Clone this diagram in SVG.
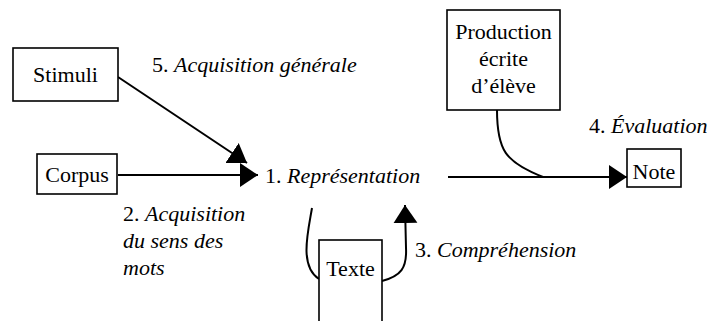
<svg xmlns="http://www.w3.org/2000/svg" width="707" height="321" viewBox="0 0 707 321">
<style>
text{font-size:22px;fill:#000}
.it{font-style:italic}
.box{fill:#fff;stroke:#000;stroke-width:1.6}
.c{fill:none;stroke:#000;stroke-width:2}
</style>
<defs>
<marker id="ah" markerUnits="userSpaceOnUse" markerWidth="20" markerHeight="26" refX="18" refY="12" orient="auto" viewBox="0 0 20 24">
<path d="M0,0 L18,12 L0,24 Z" fill="#000"/>
</marker>
</defs>
<rect width="707" height="321" fill="#fff"/>
<g id="connectors">
<line class="c" x1="118" y1="77" x2="247" y2="163" marker-end="url(#ah)"/>
<line class="c" x1="118" y1="175" x2="258" y2="175" marker-end="url(#ah)"/>
<line class="c" x1="448" y1="177" x2="627" y2="177" marker-end="url(#ah)"/>
<path class="c" d="M497,110 C497,150 505,162 543,177"/>
<path class="c" d="M312,208 C308,232 299,266 319,279"/>
<path class="c" d="M382,281 C401,276 407,268 406,248 L405,205" marker-end="url(#ah)"/>
</g>
<g font-family="Liberation Serif, DejaVu Serif, serif">
<g id="stimuli">
<rect class="box" x="13" y="48" width="105" height="53"/>
<text x="65.5" y="82" text-anchor="middle">Stimuli</text>
</g>
<g id="corpus">
<rect class="box" x="37" y="154" width="80" height="40"/>
<text x="77" y="182" text-anchor="middle">Corpus</text>
</g>
<g id="production">
<rect class="box" x="447" y="10" width="113" height="100"/>
<text x="503.5" y="39" text-anchor="middle">Production</text>
<text x="503.5" y="66" text-anchor="middle">écrite</text>
<text x="503.5" y="93" text-anchor="middle">d’élève</text>
</g>
<g id="note">
<rect class="box" x="627" y="149" width="54" height="38"/>
<text x="654" y="179" text-anchor="middle">Note</text>
</g>
<g id="texte">
<rect class="box" x="319" y="240" width="63" height="90"/>
<text x="350.5" y="276" text-anchor="middle">Texte</text>
</g>
<g id="labels">
<text x="152" y="72">5. <tspan class="it">Acquisition générale</tspan></text>
<text x="265" y="183">1. <tspan class="it">Représentation</tspan></text>
<text x="589" y="133">4. <tspan class="it">Évaluation</tspan></text>
<text x="415" y="257">3. <tspan class="it">Compréhension</tspan></text>
<text x="123" y="221">2. <tspan class="it">Acquisition</tspan></text>
<text x="123" y="248" class="it">du sens des</text>
<text x="123" y="275" class="it">mots</text>
</g>
</g>
</svg>
